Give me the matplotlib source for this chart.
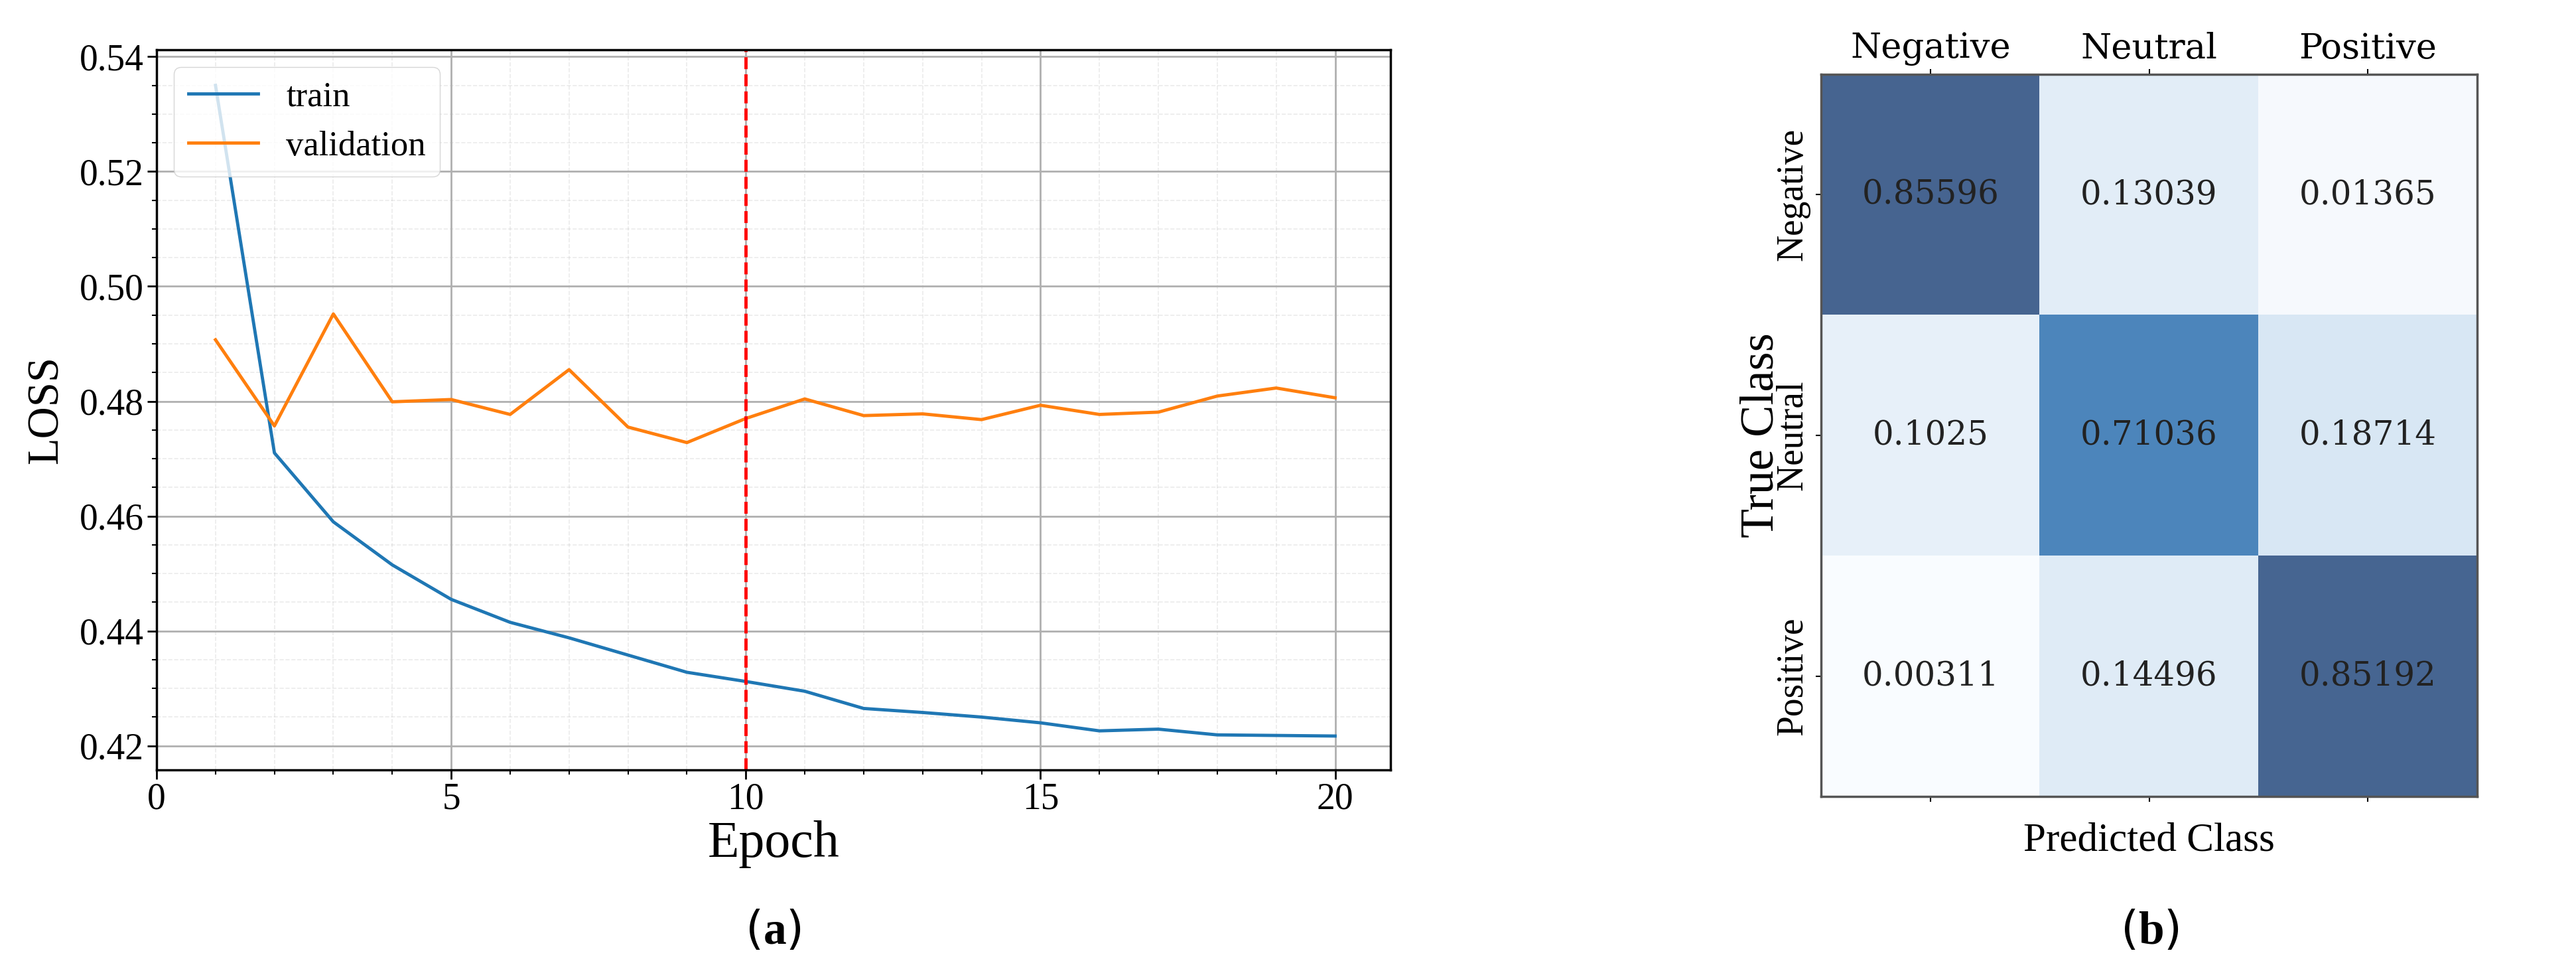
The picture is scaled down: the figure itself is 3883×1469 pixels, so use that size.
import matplotlib
matplotlib.use("Agg")
import matplotlib.pyplot as plt
import numpy as np
from matplotlib.ticker import MultipleLocator

epochs = list(range(1, 21))
train_loss = [0.535, 0.471, 0.459, 0.4515, 0.4455, 0.4415, 0.4388, 0.4358, 0.4328, 0.4312,
              0.4295, 0.4265, 0.4258, 0.4250, 0.4240, 0.4226, 0.4229, 0.4219, 0.4218, 0.4217]
val_loss = [0.4907, 0.4757, 0.4952, 0.4799, 0.4803, 0.4777, 0.4855, 0.4755, 0.4728, 0.4770,
            0.4804, 0.4775, 0.4778, 0.4768, 0.4793, 0.4777, 0.4781, 0.4809, 0.4823, 0.4806]
best_epoch = 10
classes = ["Negative", "Neutral", "Positive"]
cm = [[0.85596, 0.13039, 0.01365],
      [0.1025, 0.71036, 0.18714],
      [0.00311, 0.14496, 0.85192]]
cm_text = [["0.85596", "0.13039", "0.01365"],
           ["0.1025", "0.71036", "0.18714"],
           ["0.00311", "0.14496", "0.85192"]]

plt.rcParams["mathtext.fontset"] = "custom"
plt.rcParams["mathtext.rm"] = "Liberation Serif"
plt.rcParams["mathtext.bf"] = "Liberation Serif:bold"

W, H = 3883, 1469
fig = plt.figure(figsize=(W / 100, H / 100), dpi=100)
serif = "Liberation Serif"

ax = fig.add_axes([236 / W, 1 - 1160 / H, (2096 - 236) / W, (1160 - 75) / H])
ax.plot(epochs, train_loss, color="#1f77b4", lw=3.5, label="train")
ax.plot(epochs, val_loss, color="#ff7f0e", lw=3.5, label="validation")
ax.axvline(best_epoch, color="red", ls="--", lw=3.5)
ax.set_xlim(0, 20.94)
ax.set_ylim(0.4158, 0.5412)
ax.xaxis.set_major_locator(MultipleLocator(5))
ax.xaxis.set_minor_locator(MultipleLocator(1))
ax.yaxis.set_major_locator(MultipleLocator(0.02))
ax.yaxis.set_minor_locator(MultipleLocator(0.005))
ax.grid(which="major", color="#b0b0b0", lw=2)
ax.grid(which="minor", color="#b0b0b0", lw=1.2, alpha=0.25, ls="--")
ax.tick_params(which="major", length=10, width=2, labelsize=40)
ax.tick_params(which="minor", length=5, width=1.5)
for lab in ax.get_xticklabels() + ax.get_yticklabels():
    lab.set_family(serif)
ax.set_xlabel("Epoch", fontsize=56, family=serif, labelpad=4)
ax.set_ylabel("LOSS", fontsize=48, family=serif, labelpad=14)
for s in ax.spines.values():
    s.set_linewidth(2.5)
ax.legend(loc="upper left", prop={"family": serif, "size": 38}, handlelength=2.0)
fig.text(1165 / W, 0.045, r"($\mathbf{a}$)", fontsize=50, ha="center", va="center")

ax2 = fig.add_axes([2745 / W, 1 - 1200 / H, (3734 - 2745) / W, (1200 - 112) / H])
ax2.imshow(np.array(cm), cmap="Blues", vmin=0, vmax=0.856, alpha=0.75, aspect="auto")
for i in range(3):
    for j in range(3):
        ax2.text(j, i, cm_text[i][j], ha="center", va="center", fontsize=36,
                 family="DejaVu Serif", color="#222222")
ax2.set_xticks(range(3))
ax2.set_yticks(range(3))
ax2.set_xticklabels(classes, fontsize=38, family="DejaVu Serif")
ax2.set_yticklabels(classes, fontsize=40, family=serif, rotation=90, va="center")
ax2.xaxis.tick_top()
ax2.tick_params(axis="x", bottom=True, top=True, labelbottom=False, labeltop=True, length=6, width=1.5)
ax2.tick_params(axis="y", length=6, width=1.5, pad=6)
ax2.set_xlabel("Predicted Class", fontsize=44, family=serif, labelpad=22)
ax2.set_ylabel("True Class", fontsize=52, family=serif, labelpad=-8)
for s in ax2.spines.values():
    s.set_linewidth(2.5)
    s.set_color("#555555")
fig.text(3240 / W, 0.045, r"($\mathbf{b}$)", fontsize=50, ha="center", va="center")
fig.savefig("out.png", dpi=100)
